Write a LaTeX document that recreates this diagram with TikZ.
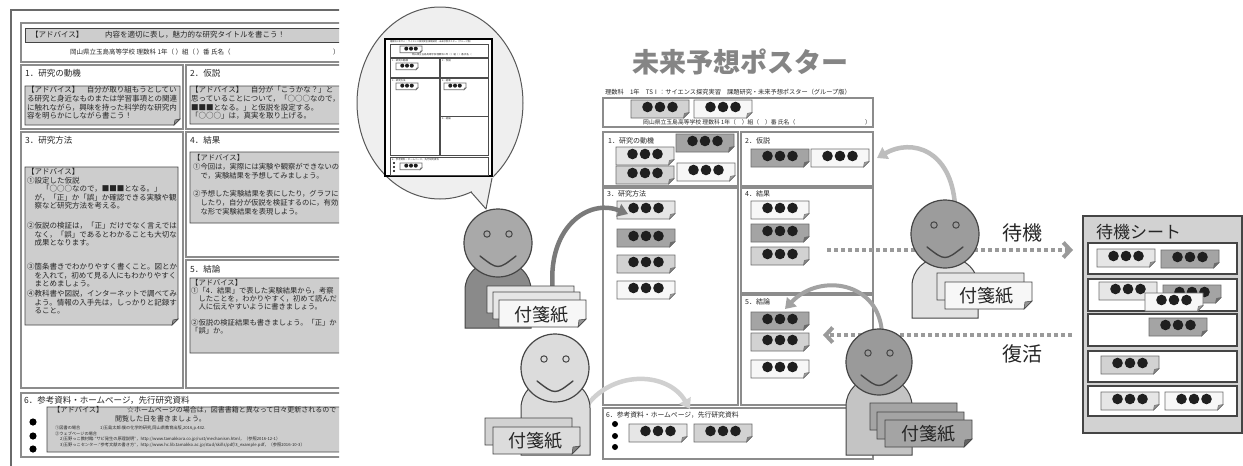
\documentclass[tikz,border=0pt]{standalone}
\usepackage{fontspec}
\setmainfont{Noto Sans CJK JP}
\usetikzlibrary{arrows.meta}
\newcommand\fsz[2]{\fontsize{#1}{#2}\selectfont}
\definecolor{outl}{HTML}{454545}
\definecolor{secline}{HTML}{8C8C8C}
\definecolor{notefill}{HTML}{CDCDCD}
\definecolor{fdark}{HTML}{A4A4A4}
\definecolor{fmid}{HTML}{D2D2D2}
\definecolor{flight}{HTML}{E6E6E6}
\definecolor{fwhite}{HTML}{F7F7F7}
\definecolor{fedge}{HTML}{6E6E6E}
\definecolor{txt}{HTML}{262626}
\definecolor{bodyA}{HTML}{8A8A8A}
\definecolor{headA}{HTML}{A9A9A9}
\definecolor{lightB}{HTML}{DCDCDC}
\definecolor{headC}{HTML}{9C9C9C}
\definecolor{bodyC}{HTML}{E2E2E2}
\definecolor{headD}{HTML}{9A9A9A}
\definecolor{bodyD}{HTML}{C4C4C4}
\definecolor{bubble}{HTML}{EFEFEF}
\definecolor{sheetbg}{HTML}{D2D2D2}
\definecolor{arrowA}{HTML}{7A7A7A}
\definecolor{arrowB}{HTML}{D0D0D0}
\definecolor{arrowC}{HTML}{BDBDBD}
\definecolor{arrowD}{HTML}{A2A2A2}
\definecolor{dotc}{HTML}{9A9A9A}
\definecolor{titlec}{HTML}{858585}

% sticky note: [scale]{x}{y}{fill}
\newcommand\fusen[4][1]{%
  \begin{scope}[shift={(#2,#3)},scale=#1]
    \filldraw[fill=#4,draw=fedge,line width=0.7] (0,0) -- (58,0) -- (58,12.5) -- (52.5,18) -- (0,18) -- cycle;
    \filldraw[fill=#4!65!black,draw=fedge,line width=0.4] (58,12.5) -- (52.5,18) -- (53.3,13.3) -- cycle;
    \fill[black!88] (16.5,7) circle (5.3) (29,7) circle (5.3) (41.5,7) circle (5.3);
  \end{scope}}

% grey advice box with a folded corner: {x1}{y1}{x2}{y2}
\newcommand\advice[4]{%
  \filldraw[fill=notefill,draw=outl,line width=0.8] (#1,#2) -- (#3,#2) -- ({#3},{#4-6}) -- ({#3-6},{#4}) -- (#1,#4) -- cycle;
  \filldraw[fill=black!45,draw=outl,line width=0.5] ({#3},{#4-6}) -- ({#3-6},{#4}) -- ({#3-5},{#4-5}) -- cycle;}

% person: {cx}{cy}{r}{head fill}{x1}{x2}{body top}{body bottom}{body fill}
\newcommand\person[9]{%
  \filldraw[fill=#9,draw=outl,line width=1] (#5,#8) [rounded corners=28] -- (#5,#7) -- (#6,#7) [sharp corners] -- (#6,#8) -- cycle;
  \begin{scope}[shift={(#1,#2)}]
    \filldraw[fill=#4,draw=outl,line width=1.2] (0,0) circle (#3);
    \draw[outl,line width=1] (-11,-9) circle (3.2) (11,-9) circle (3.2);
    \draw[outl,line width=1.4,line cap=round] (-18,13) .. controls (0,27) .. (18,13);
  \end{scope}}

% large sheet of sticky paper held by a person: {x}{y}{fill}
\newcommand\sheet[3]{%
  \begin{scope}[shift={(#1,#2)}]
    \filldraw[fill=#3,draw=outl,line width=0.9] (0,0) -- (87,0) -- (87,19) -- (79,27) -- (0,27) -- cycle;
    \filldraw[fill=#3!60!black,draw=outl,line width=0.5] (87,19) -- (79,27) -- (80,20) -- cycle;
  \end{scope}}

\begin{document}
\begin{tikzpicture}[x=1pt,y=-1pt,
  secbox/.style={draw=secline,line width=1.2},
  rsec/.style={draw=secline,line width=1.3},
  mini/.style={draw=black!70,line width=0.6},
  lt/.style={anchor=west,inner sep=0,font=\fsz{7.5}{8.5},text=txt},
  st/.style={anchor=west,inner sep=0,font=\fsz{8.5}{9},text=txt},
  rt/.style={anchor=west,inner sep=0,font=\fsz{7}{8},text=txt},
  nt/.style={anchor=north west,inner sep=0,align=left,text=txt},
  tiny/.style={anchor=west,inner sep=0,font=\fsz{4.2}{5},text=txt},
  mt/.style={anchor=west,inner sep=0,font=\fsz{2.4}{3},text=txt},
  dotline/.style={draw=dotc,line width=4,dash pattern=on 4pt off 3pt},
  curvy/.style={line width=4.5,-{Triangle[length=10pt,width=13pt]}},
  fusenlabel/.style={font=\fsz{18}{18},text=txt,inner sep=0}]
\useasboundingbox (0,0) rectangle (1243,466);
\fill[white] (0,0) rectangle (1243,466);

%% ---------- advice template poster (left) ----------
\begin{scope}
  \clip (0,0) rectangle (339,466);
  \draw[outl!80,line width=1.8] (11,470) -- (11,10) -- (350,10);
  \draw[secbox] (21,23) rectangle (350,62);
  \filldraw[fill=notefill,draw=outl,line width=0.8] (25,28) rectangle (350,42);
  \node[lt] (hA) at (31,35) {【アドバイス】};
  \node[lt] (hB) at (105,35) {内容を適切に表し，魅力的な研究タイトルを書こう！};
  \node[lt,font=\fsz{6.5}{7}] (hC) at (70,52) {岡山県立玉島高等学校 理数科 1年（ ）組（ ）番 氏名（};
  \node[lt,font=\fsz{6.5}{7}] (hD) at (333,52) {）};

  \draw[secbox] (21,65) rectangle (183,129);
  \draw[secbox] (186,65) rectangle (350,129);
  \draw[secbox] (21,132) rectangle (183,388);
  \draw[secbox] (186,132) rectangle (350,257);
  \draw[secbox] (186,260) rectangle (350,388);
  \draw[secbox] (21,393) rectangle (350,457);
  \node[st] (t1) at (25,73) {1．研究の動機};
  \node[st] (t2) at (190,73) {2．仮説};
  \node[st] (t3) at (25,140) {3．研究方法};
  \node[st] (t4) at (190,140) {4．結果};
  \node[st] (t5) at (190,269) {5．結論};
  \node[st] (t6) at (24,400) {6．参考資料・ホームページ，先行研究資料};

  \advice{25}{86}{180}{125}
  \advice{190}{86}{350}{124}
  \advice{25}{167}{178}{325}
  \advice{190}{152}{350}{223}
  \advice{190}{278}{350}{353}
  \advice{47}{407}{350}{452}

  \node[nt,font=\fsz{7.5}{8.7}] (n1) at (27,86.3) {【アドバイス】　自分が取り組もうとしてい\\る研究と身近なものまたは学習事項との関連\\に触れながら，興味を持った科学的な研究内\\容を明らかにしながら書こう！};
  \node[nt,font=\fsz{7.5}{8.7}] (n2) at (191,86.3) {【アドバイス】　自分が「こうかな？」と\\思っていることについて，「○○○なので，\\■■■となる。」と仮説を設定する。\\「○○○」は，真実を取り上げる。};
  \node[nt,font=\fsz{7.5}{8.4}] (n3a) at (27,168.3) {【アドバイス】\\①設定した仮説\\　　「○○○なので，■■■となる。」\\　が，「正」か「誤」か確認できる実験や観\\　察など研究方法を考える。};
  \node[nt,font=\fsz{7.5}{8.4}] (n3b) at (27,222.3) {②仮説の検証は，「正」だけでなく言えでは\\　なく，「誤」であるとわかることも大切な\\　成果となります。};
  \node[nt,font=\fsz{7.5}{8.4}] (n3c) at (27,263.3) {③箇条書きでわかりやすく書くこと。図とか\\　を入れて，初めて見る人にもわかりやすく\\　まとめましょう。};
  \node[nt,font=\fsz{7.5}{8.4}] (n3d) at (27,290.3) {④教科書や図説，インターネットで調べてみ\\　よう。情報の入手先は，しっかりと記録す\\　ること。};
  \node[nt,font=\fsz{7.3}{9}] (n4) at (193,154.3) {【アドバイス】\\①今回は，実際には実験や観察ができないの\\　で，実験結果を予想してみましょう。\\[9pt]②予想した実験結果を表にしたり，グラフに\\　したり，自分が仮説を検証するのに，有効\\　な形で実験結果を表現しよう。};
  \node[nt,font=\fsz{7.3}{8}] (n5) at (191,279.3) {【アドバイス】\\①「4．結果」で表した実験結果から，考察\\　したことを，わかりやすく，初めて読んだ\\　人に伝えやすいように書きましょう。\\[8pt]②仮説の検証結果も書きましょう。「正」か\\「誤」か。};

  \fill[black] (33,422) circle (3.6) (33,436) circle (3.6) (33,449) circle (3.6);
  \node[lt,font=\fsz{7.2}{8}] (n6a) at (53,410) {【アドバイス】};
  \node[lt,font=\fsz{7}{8}] (n6b) at (127,410) {☆ホームページの場合は，図書書籍と異なって日々更新されるので};
  \node[lt,font=\fsz{7}{8}] (n6c) at (115,419) {閲覧した日を書きましょう。};
  \node[tiny] (r1a) at (55,428) {①図書の場合};
  \node[tiny] (r1b) at (100,428) {1)玉島太郎:僕の化学的研究,岡山県教育出版,2016,p.432.};
  \node[tiny] (r2a) at (55,433.5) {②ウェブページの場合};
  \node[tiny] (r2b) at (60,439) {2)玉野っこ教材館:“サビ発生の原理説明”，http://www.tamakkora.co.jp/rust/mechanism.html，（参照2016-12-1）};
  \node[tiny] (r2c) at (60,445) {3)玉野っこセンター:“参考文献の書き方”，http://www.hc.lib.tamakko.ac.jp/stud/skills/pdf/3\_example.pdf，（参照2016-10-3）};
\end{scope}

%% ---------- thought bubble with a small poster ----------
\filldraw[fill=bubble,draw=outl!90,line width=1] (440,103) ellipse [x radius=83,y radius=96];
\fill[bubble] (469,188) -- (486,209) -- (494,173) -- cycle;
\draw[outl!90,line width=1,line join=round] (471,192) -- (486,209) -- (492,178);

\filldraw[fill=white,draw=black,line width=1.6] (385,39) rectangle (492,176);
\node[mt,font=\fsz{2.2}{3}] (mt0) at (390,41.6) {理数科 1年 TSⅠ：サイエンス探究実習 課題研究・未来予想ポスター（グループ版）};
\draw[mini] (390,44) rectangle (488,57);
\draw[mini] (390,58) rectangle (439,77);
\draw[mini] (440,58) rectangle (488,77);
\draw[mini] (390,78) rectangle (439,155);
\draw[mini] (440,78) rectangle (488,116);
\draw[mini] (440,116) rectangle (488,155);
\draw[mini] (390,157) rectangle (488,175);
\node[mt] (mh) at (412,54.5) {岡山県立玉島高等学校 理数科 1年（ ）組（ ）番 氏名（};
\node[mt] (m1) at (392,60.5) {1．研究の動機};
\node[mt] (m2) at (442,60.5) {2．仮説};
\node[mt] (m3) at (392,80.5) {3．研究方法};
\node[mt] (m4) at (442,80.5) {4．結果};
\node[mt] (m5) at (442,118.5) {5．結論};
\node[mt] (m6) at (392,159.5) {6．参考資料・ホームページ，先行研究資料};
\fusen[0.38]{400}{46}{white}
\fusen[0.38]{396}{63}{white}
\fusen[0.38]{396}{83}{white}
\fusen[0.38]{444}{83}{white}
\fusen[0.38]{400}{163}{white}
\fill[black] (394,163) circle (1.1) (394,167) circle (1.1) (394,171) circle (1.1);

%% ---------- future poster (centre) ----------
\node[font=\fsz{27}{27}\bfseries,text=titlec,inner sep=0] (title) at (740,62) {未来予想ポスター};
\node[anchor=west,inner sep=0,font=\fsz{6.2}{7},text=txt] (sub) at (605,92.5) {理数科　1年　TSⅠ：サイエンス探究実習　課題研究・未来予想ポスター（グループ版）};
\draw[rsec] (603,98) rectangle (873,127);
\draw[rsec] (603,132) rectangle (738,186);
\draw[rsec] (741,132) rectangle (873,186);
\draw[rsec] (603,188) rectangle (738,405);
\draw[rsec] (741,188) rectangle (873,293);
\draw[rsec] (741,295) rectangle (873,405);
\draw[rsec] (603,408) rectangle (873,459);

\fusen{631}{100}{fmid}
\fusen{694}{100}{fwhite}
\node[anchor=west,inner sep=0,font=\fsz{5.8}{6},text=txt] (rh) at (643,122) {岡山県立玉島高等学校 理数科 1年（　）組（　）番 氏名（};
\node[anchor=west,inner sep=0,font=\fsz{5.8}{6},text=txt] (rh2) at (865,122) {）};

\node[rt] (p1) at (608,141) {1．研究の動機};
\node[rt] (p2) at (745,141) {2．仮説};
\node[rt] (p3) at (607,194) {3．研究方法};
\node[rt] (p4) at (745,194) {4．結果};
\node[rt] (p5) at (745,302) {5．結論};
\node[rt,font=\fsz{6.8}{8}] (p6) at (606,415) {6．参考資料・ホームページ，先行研究資料};

\fusen{676}{134}{fdark}
\fusen{616}{147}{flight}
\fusen{616}{166}{fmid}
\fusen{677}{163}{fwhite}
\fusen{751}{149}{fdark}
\fusen{811}{149}{fwhite}
\fusen{617}{201}{flight}
\fusen{617}{229}{fdark}
\fusen{617}{255}{fmid}
\fusen{617}{281}{fwhite}
\fusen{751}{201}{fwhite}
\fusen{751}{224}{fdark}
\fusen{751}{247}{fmid}
\fusen{751}{312}{fdark}
\fusen{751}{333}{fmid}
\fusen{751}{360}{fwhite}
\fusen{629}{424}{flight}
\fusen{694}{424}{fmid}
\fill[black] (615,424) circle (3) (615,436) circle (3) (615,447) circle (3);

%% ---------- waiting sheet (right) ----------
\filldraw[fill=sheetbg,draw=outl,line width=1.2] (1083,216) rectangle (1242,433);
\node[anchor=west,inner sep=0,font=\fsz{17}{17},text=txt] (wtitle) at (1096,232) {待機シート};
\foreach \ya/\yb in {243/274,279/311,314/346,351/382,386/416}
  \filldraw[fill=white,draw=outl,line width=1.2] (1088,\ya) rectangle (1237,\yb);
\fusen{1097}{249}{flight}
\fusen{1161}{250}{fdark}
\fusen{1099}{282}{flight}
\fusen{1163}{285}{fdark}
\fusen{1145}{293}{fwhite}
\fusen{1149}{318}{fdark}
\fusen{1101}{356}{fmid}
\fusen{1101}{392}{flight}
\fusen{1165}{392}{fwhite}

%% ---------- moves between poster and sheet ----------
\coordinate (waitFrom) at (827,250);
\coordinate (waitTo) at (1073,250);
\coordinate (backFrom) at (1072,335);
\coordinate (backTo) at (823,335);
\draw[dotline,-{Straight Barb[length=7pt,width=15pt]}] (waitFrom) -- (waitTo);
\draw[dotline,-{Straight Barb[length=7pt,width=15pt]}] (backFrom) -- (backTo);
\node[font=\fsz{20}{20},text=txt,inner sep=0] (lblWait) at (1022,233) {待機};
\node[font=\fsz{20}{20},text=txt,inner sep=0] (lblBack) at (1022,354) {復活};

\coordinate (aFrom) at (553,292);
\coordinate (aTo) at (628,214);
\coordinate (bFrom) at (588,404);
\coordinate (bTo) at (690,409);
\coordinate (cFrom) at (955,205);
\coordinate (cTo) at (877,158);
\coordinate (dFrom) at (882,334);
\coordinate (dTo) at (785,309);
\draw[curvy,arrowA] (aFrom) .. controls (546,228) and (588,198) .. (aTo);
\draw[curvy,arrowB] (bFrom) .. controls (615,370) and (668,372) .. (bTo);
\draw[curvy,arrowC] (cFrom) .. controls (951,150) and (912,138) .. (cTo);
\draw[curvy,arrowD,line width=4] (dFrom) .. controls (880,282) and (820,272) .. (dTo);

%% ---------- people ----------
\person{498}{243}{34}{headA}{465}{531}{262}{328}{bodyA}
\sheet{487}{286}{flight}
\sheet{493}{292}{flight}
\sheet{499}{300}{fwhite}
\node[fusenlabel] (fA) at (541,315) {付箋紙};

\person{555}{368}{34}{lightB}{521}{590}{380}{455}{lightB}
\sheet{485}{418}{fmid}
\sheet{493}{427}{lightB}
\node[fusenlabel] (fB) at (535,441) {付箋紙};

\person{945}{234}{34}{headC}{912}{978}{258}{318}{bodyC}
\sheet{937}{273}{flight}
\sheet{945}{282}{fwhite}
\node[fusenlabel] (fC) at (986,296) {付箋紙};

\person{879}{362}{33}{headD}{846}{912}{378}{455}{bodyD}
\sheet{870}{403}{fdark}
\sheet{877}{412}{fdark}
\sheet{885}{420}{fdark}
\node[fusenlabel] (fD) at (928,434) {付箋紙};
\end{tikzpicture}
\end{document}
